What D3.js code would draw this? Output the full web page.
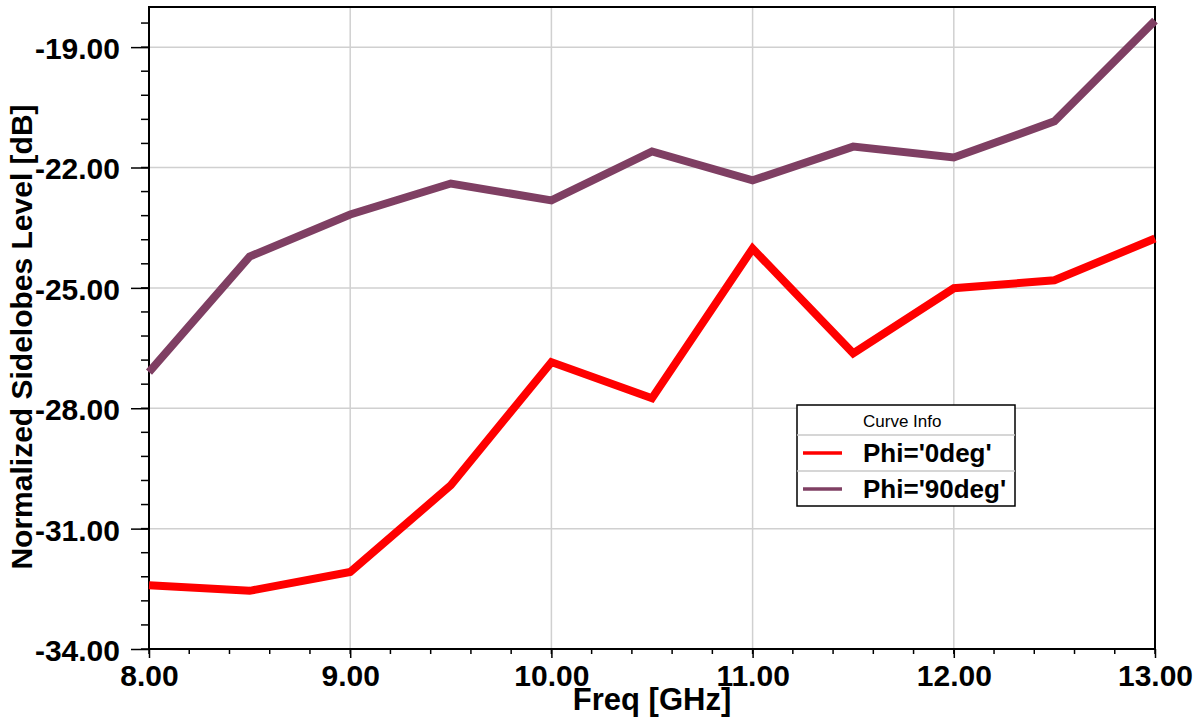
<!DOCTYPE html>
<html><head><meta charset="utf-8">
<script src="https://cdn.jsdelivr.net/npm/d3@7"></script>
<style>body{margin:0;background:#fff;} svg{display:block;font-family:"Liberation Sans",Arial,sans-serif;}</style>
</head><body>
<svg id="c" width="1204" height="722"></svg>
<script>
const freqs = [8.0, 8.5, 9.0, 9.5, 10.0, 10.5, 11.0, 11.5, 12.0, 12.5, 13.0];
const phi0 = [-32.41, -32.55, -32.08, -29.92, -26.85, -27.75, -24.02, -26.63, -25.01, -24.81, -23.77];
const phi90 = [-27.10, -24.22, -23.17, -22.40, -22.82, -21.60, -22.32, -21.48, -21.75, -20.85, -18.34];
const xTicks = [8, 9, 10, 11, 12, 13];
const yTicks = [-34, -31, -28, -25, -22, -19];
const seriesNames = ["Phi='0deg'", "Phi='90deg'"];
const seriesColors = ["#ff0000", "#7f3f63"];

const FONT = '"Liberation Sans",Arial,sans-serif';
const fmt = d => d.toFixed(2);
const svg = d3.select("#c");
const L = 149, R = 1155, T = 7, B = 649;
const x = d3.scaleLinear().domain([8, 13]).range([L, R]);
const y = d3.scaleLinear().domain([-34, -18]).range([B, T]);

// grid
svg.append("g").selectAll("line").data(xTicks.slice(1, -1)).join("line")
  .attr("x1", d => x(d)).attr("x2", d => x(d)).attr("y1", T).attr("y2", B)
  .attr("stroke", "#d0d0d0").attr("stroke-width", 1.5);
svg.append("g").selectAll("line").data(yTicks.slice(1)).join("line")
  .attr("x1", L).attr("x2", R).attr("y1", d => y(d)).attr("y2", d => y(d))
  .attr("stroke", "#d0d0d0").attr("stroke-width", 1.5);

// minor ticks
const xMinor = d3.range(0, 26).map(i => 8 + i * 0.2);
const yMinor = d3.range(0, 27).map(i => -34 + i * 0.6).filter(v => v <= -18);
svg.append("g").selectAll("line").data(xMinor).join("line")
  .attr("x1", d => x(d)).attr("x2", d => x(d)).attr("y1", B).attr("y2", B + 5)
  .attr("stroke", "#000").attr("stroke-width", 1.5);
svg.append("g").selectAll("line").data(yMinor).join("line")
  .attr("x1", L - 8).attr("x2", L).attr("y1", d => y(d)).attr("y2", d => y(d))
  .attr("stroke", "#000").attr("stroke-width", 1.5);

// axes
const xAxis = d3.axisBottom(x).tickValues(xTicks).tickFormat(fmt).tickSize(9).tickPadding(5);
const yAxis = d3.axisLeft(y).tickValues(yTicks).tickFormat(fmt).tickSize(18).tickPadding(11);
const gx = svg.append("g").attr("transform", `translate(0,${B})`).call(xAxis);
const gy = svg.append("g").attr("transform", `translate(${L},0)`).call(yAxis);
[gx, gy].forEach(g => {
  g.attr("font-family", FONT).attr("font-size", 30);
  g.select(".domain").remove();
  g.selectAll(".tick line").attr("stroke", "#000").attr("stroke-width", 1.5);
  g.selectAll(".tick text").attr("fill", "#000").attr("font-weight", "bold");
});
gx.selectAll(".tick text").attr("dy", "0.78em");
gy.selectAll(".tick text").attr("dy", "0.38em");

// frame
svg.append("rect").attr("x", L).attr("y", T).attr("width", R - L).attr("height", B - T)
  .attr("fill", "none").attr("stroke", "#000").attr("stroke-width", 2);

// lines
const line = d3.line().x((d, i) => x(freqs[i])).y(d => y(d));
[phi0, phi90].forEach((s, k) => {
  svg.append("path").datum(s).attr("d", line).attr("fill", "none")
    .attr("stroke", seriesColors[k]).attr("stroke-width", 8).attr("stroke-linejoin", "miter");
});

// axis titles
svg.append("text").attr("x", 652).attr("y", 710).attr("text-anchor", "middle")
  .attr("font-size", 31).attr("font-weight", "bold").text("Freq [GHz]");
svg.append("text").attr("transform", "translate(32,337) rotate(-90)").attr("text-anchor", "middle")
  .attr("font-size", 30).attr("font-weight", "bold").text("Normalized Sidelobes Level [dB]");

// legend
const lg = svg.append("g");
const lx = 797, ly = 405, lw = 218;
lg.append("rect").attr("x", lx).attr("y", ly).attr("width", lw).attr("height", 101)
  .attr("fill", "#fff").attr("stroke", "#000").attr("stroke-width", 1.5);
[435, 471].forEach(yy => lg.append("line").attr("x1", lx).attr("x2", lx + lw).attr("y1", yy).attr("y2", yy)
  .attr("stroke", "#c8c8c8").attr("stroke-width", 1.5));
lg.append("text").attr("x", 863).attr("y", 427)
  .attr("font-size", 17).text("Curve Info");
seriesNames.forEach((n, i) => {
  const cy = 453 + i * 36;
  lg.append("line").attr("x1", 803).attr("x2", 842).attr("y1", cy).attr("y2", cy)
    .attr("stroke", seriesColors[i]).attr("stroke-width", 3.5);
  lg.append("text").attr("x", 863).attr("y", cy + 9).attr("font-size", 26).attr("font-weight", "bold").text(n);
});
</script>
</body></html>
